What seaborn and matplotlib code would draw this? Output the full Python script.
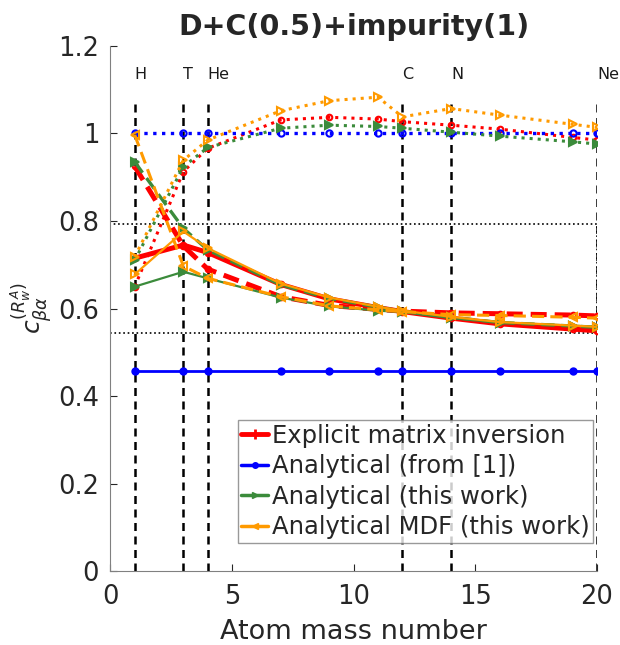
import numpy as np
import pandas as pd
import matplotlib
matplotlib.use("Agg")
import matplotlib.pyplot as plt
import seaborn as sns
from matplotlib.lines import Line2D
from matplotlib.patches import Rectangle

# ---------------- data ----------------
mass = [1, 3, 4, 7, 9, 11, 12, 14, 16, 19, 20]
element_labels = ["H", "T", "He", "C", "N", "Ne"]
element_mass = [1, 3, 4, 12, 14, 20]

red_solid = [0.715, 0.745, 0.728, 0.655, 0.622, 0.602, 0.593, 0.578, 0.565, 0.553, 0.549]
red_dashed = [0.925, 0.743, 0.690, 0.627, 0.607, 0.598, 0.594, 0.590, 0.588, 0.585, 0.583]
red_dotted = [0.650, 0.913, 0.966, 1.031, 1.037, 1.033, 1.027, 1.019, 1.010, 0.991, 0.985]

blue_solid = [0.457, 0.457, 0.457, 0.457, 0.457, 0.457, 0.457, 0.457, 0.457, 0.457, 0.457]
blue_dotted = [1.000, 1.000, 1.000, 1.000, 1.000, 1.000, 1.000, 1.000, 1.000, 1.000, 1.000]

green_solid = [0.650, 0.684, 0.669, 0.625, 0.605, 0.595, 0.592, 0.578, 0.568, 0.561, 0.558]
green_dashed = [0.935, 0.783, 0.734, 0.654, 0.623, 0.603, 0.594, 0.580, 0.568, 0.560, 0.557]
green_dotted = [0.710, 0.924, 0.968, 1.012, 1.019, 1.016, 1.012, 1.003, 0.994, 0.981, 0.976]

orange_solid = [0.678, 0.776, 0.738, 0.657, 0.625, 0.604, 0.595, 0.581, 0.569, 0.561, 0.558]
orange_dashed = [0.997, 0.697, 0.669, 0.627, 0.606, 0.597, 0.593, 0.586, 0.584, 0.580, 0.578]
orange_dotted = [0.718, 0.939, 0.985, 1.052, 1.075, 1.083, 1.038, 1.057, 1.042, 1.021, 1.014]

legend_labels = ["Explicit matrix inversion", "Analytical (from [1])",
                 "Analytical (this work)", "Analytical MDF (this work)"]
box_low, box_high = 0.544, 0.793

RED, BLUE, GREEN, ORANGE = "#ff0000", "#0000ff", "#3b8b3b", "#ff9a00"

# ---------------- figure ----------------
sns.set_style("ticks")
plt.rcParams["font.family"] = ["DejaVu Sans"]
fig = plt.figure(figsize=(6.2, 6.45), dpi=100)
ax = fig.add_axes([0.178, 0.1147, 0.785, 0.814])

def draw(y, color, ls, lw, marker, ms, mfc=None, z=2):
    kw = dict(x=mass, y=y, color=color, linestyle=ls, linewidth=lw, marker=marker,
              markersize=ms, ax=ax, zorder=z, markeredgecolor=color)
    if mfc is not None:
        kw["markerfacecolor"] = mfc
    kw["markeredgewidth"] = 1.5
    sns.lineplot(**kw)

# red
draw(red_solid, RED, "-", 3.6, "o", 4, "none", 2)
draw(red_dashed, RED, (0, (3.2, 1.6)), 3.6, "o", 4, "none", 2)
draw(red_dotted, RED, ":", 2.2, "o", 4, "none", 2)
# blue
draw(blue_solid, BLUE, "-", 2.0, "o", 4.5, BLUE, 3)
draw(blue_dotted, BLUE, ":", 2.4, "o", 4.5, "none", 3)
# green
draw(green_solid, GREEN, "-", 1.6, ">", 6, GREEN, 4)
draw(green_dashed, GREEN, (0, (4, 2)), 2.4, ">", 6, GREEN, 4)
draw(green_dotted, GREEN, ":", 2.2, ">", 6, GREEN, 4)
# orange
draw(orange_solid, ORANGE, "-", 1.6, ">", 6, "none", 5)
draw(orange_dashed, ORANGE, (0, (4, 2)), 2.2, "<", 6, "none", 5)
draw(orange_dotted, ORANGE, ":", 2.2, ">", 6, "none", 5)

# vertical element lines and labels
ax.vlines(element_mass, 0, 1.075, colors="k", linestyles=(0, (3.2, 2.2)), linewidth=1.8, zorder=1)
for xm, lab in zip(element_mass, element_labels):
    ax.text(xm, 1.134, lab, ha="left", va="center", fontsize=11.5, color="#1a1a1a")

# dotted box
ax.add_patch(Rectangle((0, box_low), 20, box_high - box_low, fill=False,
                       edgecolor="k", linestyle=":", linewidth=1.2, zorder=1))

# axes
ax.set_xlim(0, 20)
ax.set_ylim(0, 1.2)
ax.set_xticks([0, 1, 3, 4, 5, 10, 12, 14, 15, 20])
ax.set_xticklabels(["0", "", "", "", "5", "10", "", "", "15", "20"])
ax.set_yticks([0, 0.2, 0.4, 0.6, 0.8, 1.0, 1.2])
ax.set_yticklabels(["0", "0.2", "0.4", "0.6", "0.8", "1", "1.2"])
ax.tick_params(direction="in", length=5, width=0.8, labelsize=18.5, colors="#262626")
ax.tick_params(axis="x", pad=9)
ax.tick_params(axis="y", pad=8)
for s in ["top", "right"]:
    ax.spines[s].set_visible(False)
for s in ["left", "bottom"]:
    ax.spines[s].set_color("#808080")
    ax.spines[s].set_linewidth(0.8)

ax.set_xlabel("Atom mass number", fontsize=19.5, color="#262626", labelpad=7)
ax.set_ylabel(r"$c_{\beta\alpha}^{(R_w^A)}$", fontsize=18, color="#262626", labelpad=3)
ax.set_title("D+C(0.5)+impurity(1)", fontsize=20.5, fontweight="bold", pad=8)

handles = [
    Line2D([], [], color=RED, lw=3.5, marker="+", markersize=7, markeredgewidth=2),
    Line2D([], [], color=BLUE, lw=2.5, marker=".", markersize=8),
    Line2D([], [], color=GREEN, lw=2.5, marker=">", markersize=5),
    Line2D([], [], color=ORANGE, lw=2.5, marker="<", markersize=5),
]
leg = ax.legend(handles, legend_labels, loc="lower right",
                bbox_to_anchor=(593 / 620, 1 - 543 / 645), bbox_transform=fig.transFigure,
                fontsize=17.5, handlelength=1.1, handletextpad=0.15, labelspacing=0.27,
                borderpad=0.15, borderaxespad=0, frameon=True, fancybox=False)
leg.get_frame().set_edgecolor("#808080")
leg.get_frame().set_linewidth(1.0)

fig.savefig("out.png", dpi=100)
